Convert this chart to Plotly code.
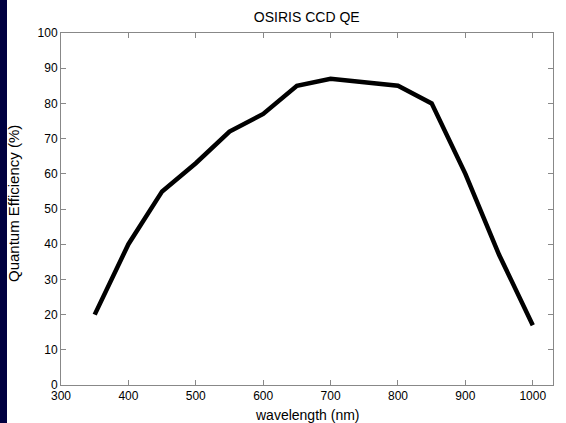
import plotly.graph_objects as go

wavelength = [350, 400, 450, 500, 550, 600, 650, 700, 750, 800, 850, 900, 950, 1000]
qe = [20, 40, 55, 63, 72, 77, 85, 87, 86, 85, 80, 60, 37, 17]
x_ticks = [300, 400, 500, 600, 700, 800, 900, 1000]
y_ticks = [0, 10, 20, 30, 40, 50, 60, 70, 80, 90, 100]

FONT = "Liberation Sans, Arial"
PW, PH, L, T = 492, 352, 61, 33

fig = go.Figure()
fig.add_trace(go.Scatter(x=wavelength, y=qe, mode="lines",
                         line=dict(color="black", width=4.5)))

axis_common = dict(showline=True, linecolor="#888888", linewidth=1, mirror="ticks",
                   ticks="inside", ticklen=5, tickcolor="#888888", showgrid=False,
                   zeroline=False, automargin=False,
                   tickfont=dict(family=FONT, size=12, color="black"))

fig.update_layout(
    width=566, height=423,
    margin=dict(l=L, r=13, t=T, b=38),
    paper_bgcolor="white", plot_bgcolor="white",
    showlegend=False,
    title=dict(text="OSIRIS CCD QE", x=0.542, xanchor="center", xref="container",
               y=1 - 17 / 423, yanchor="middle", yref="container", automargin=False,
               font=dict(family=FONT, size=14, color="black")),
    xaxis=dict(range=[300, 1030], tickvals=x_ticks, **axis_common),
    yaxis=dict(range=[0, 100], tickvals=y_ticks, **axis_common),
    annotations=[
        dict(text="wavelength (nm)", xref="paper", yref="paper", x=0.5, y=-(415 - 385) / PH,
             xanchor="center", yanchor="middle", showarrow=False,
             font=dict(family=FONT, size=14, color="black")),
        dict(text="Quantum Efficiency (%)", xref="paper", yref="paper", x=(13 - L) / PW,
             y=(385 - 204) / PH, xanchor="center", yanchor="middle", textangle=-90,
             showarrow=False, font=dict(family=FONT, size=15, color="black")),
    ],
    shapes=[dict(type="rect", xref="paper", yref="paper", x0=-0.2, x1=(7 - L) / PW,
                 y0=-0.3, y1=1.3, fillcolor="#000040", line=dict(width=0), layer="above")],
)

fig.write_html("out.html", config={"displayModeBar": False},
               post_script="document.body.style.margin='0';document.body.style.overflow='hidden';")
